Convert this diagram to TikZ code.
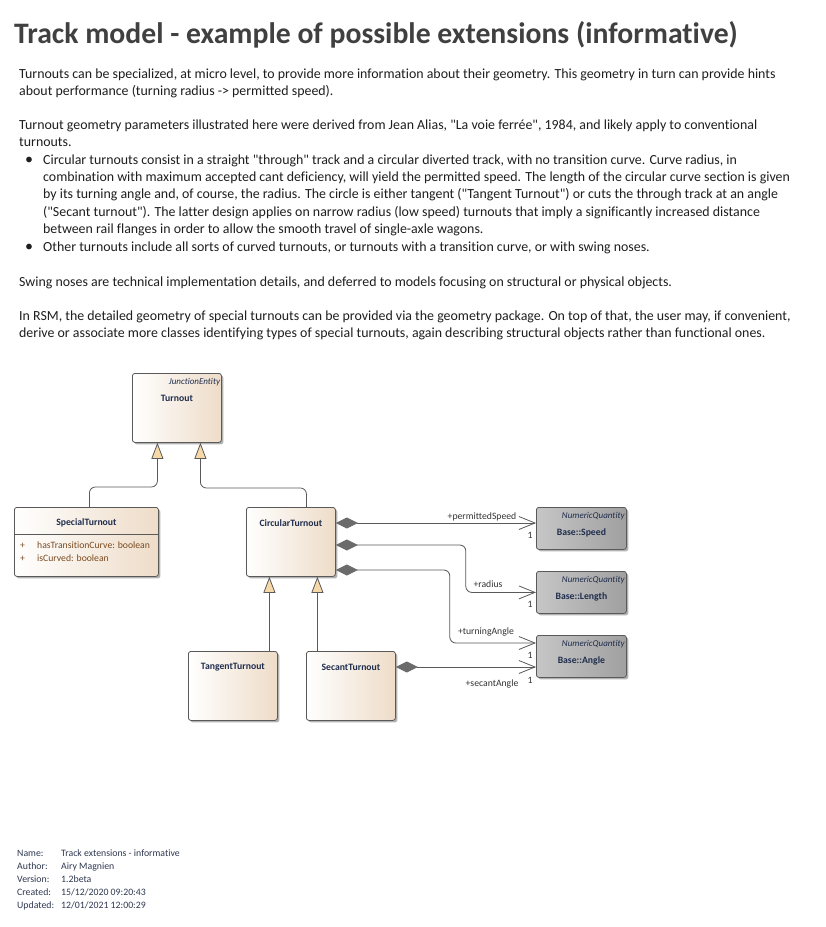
\documentclass[tikz,border=0pt]{standalone}
\usepackage{fontspec}
\setmainfont{Carlito}[Ligatures={TeXOff,CommonOff}]
\usetikzlibrary{arrows.meta,shadows,calc}
\definecolor{titletxt}{HTML}{404040}
\definecolor{bodytxt}{HTML}{1E1E1E}
\definecolor{boxline}{HTML}{5A5A5A}
\definecolor{beige}{HTML}{EEDCC8}
\definecolor{grayL}{HTML}{C6C6C6}
\definecolor{grayR}{HTML}{A0A0A0}
\definecolor{trifill}{HTML}{F7D9A9}
\definecolor{diafill}{HTML}{6B6B6B}
\definecolor{navy}{HTML}{1F2D4D}
\definecolor{attr}{HTML}{7A4A20}
\definecolor{lbl}{HTML}{333333}
\definecolor{foot}{HTML}{2E3850}
\tikzset{
  bodyline/.style={anchor=base west, inner sep=0pt, text=bodytxt, font=\fontsize{13.9}{16}\selectfont},
  cls/.style={draw=boxline, line width=0.8pt, rounded corners=2.5pt, anchor=north west, inner sep=0pt,
     left color=white, right color=beige,
     drop shadow={shadow xshift=2pt, shadow yshift=-2pt, opacity=0.3, fill=black}},
  numq/.style={cls, left color=grayL, right color=grayR},
  ctitle/.style={inner sep=0pt, text=navy, font=\fontsize{9.7}{11}\selectfont\bfseries},
  stereo/.style={inner sep=0pt, anchor=north east, text=navy, font=\fontsize{9}{11}\selectfont\itshape},
  attrtxt/.style={anchor=base west, inner sep=0pt, text=attr, font=\fontsize{9.7}{11}\selectfont},
  gen/.style={draw=boxline, line width=0.8pt, rounded corners=6pt,
     -{Triangle[length=16pt, width=12pt, fill=trifill, line width=0.8pt]}},
  assoc/.style={draw=boxline, line width=0.8pt, rounded corners=6pt,
     {Diamond[length=22pt, width=11pt, fill=diafill, color=diafill]}-{Straight Barb[length=16pt, width=13pt, line width=0.8pt]}},
  albl/.style={inner sep=0pt, text=lbl, font=\fontsize{9.7}{11}\selectfont},
  mult/.style={inner sep=0pt, text=lbl, font=\fontsize{9.7}{11}\selectfont},
  footl/.style={anchor=base west, inner sep=0pt, text=foot, font=\fontsize{9.8}{11}\selectfont},
}
\begin{document}
\begin{tikzpicture}[x=1pt, y=-1pt]
\fill[white] (0,0) rectangle (826,927);
\useasboundingbox (0,0) rectangle (826,927);

% title
\node[anchor=base west, inner sep=0pt, text=titletxt, font=\fontsize{29.7}{32}\selectfont\bfseries] (title) at (14,43) {Track model - example of possible extensions (informative)};

% body text
\node[bodyline] (l1) at (19,78.5) {Turnouts can be specialized, at micro level, to provide more information about their geometry. This geometry in turn can provide hints};
\node[bodyline] (l2) at (19,95.5) {about performance (turning radius -> permitted speed).};
\node[bodyline] (l3) at (19,129) {Turnout geometry parameters illustrated here were derived from Jean Alias, "La voie ferrée", 1984, and likely apply to conventional};
\node[bodyline] (l4) at (19,146) {turnouts.};
\node[bodyline, font=\fontsize{16}{16}\selectfont] (b1) at (25,164) {•};
\node[bodyline] (l5) at (43,164) {Circular turnouts consist in a straight "through" track and a circular diverted track, with no transition curve. Curve radius, in};
\node[bodyline] (l6) at (43,181.5) {combination with maximum accepted cant deficiency, will yield the permitted speed. The length of the circular curve section is given};
\node[bodyline] (l7) at (43,198.8) {by its turning angle and, of course, the radius. The circle is either tangent ("Tangent Turnout") or cuts the through track at an angle};
\node[bodyline] (l8) at (43,216.1) {("Secant turnout"). The latter design applies on narrow radius (low speed) turnouts that imply a significantly increased distance};
\node[bodyline] (l9) at (43,233) {between rail flanges in order to allow the smooth travel of single-axle wagons.};
\node[bodyline, font=\fontsize{16}{16}\selectfont] (b2) at (25,251.5) {•};
\node[bodyline] (l10) at (43,251.5) {Other turnouts include all sorts of curved turnouts, or turnouts with a transition curve, or with swing noses.};
\node[bodyline] (l11) at (19,286) {Swing noses are technical implementation details, and deferred to models focusing on structural or physical objects.};
\node[bodyline] (l12) at (19,320.5) {In RSM, the detailed geometry of special turnouts can be provided via the geometry package. On top of that, the user may, if convenient,};
\node[bodyline] (l13) at (19,337.5) {derive or associate more classes identifying types of special turnouts, again describing structural objects rather than functional ones.};

% classes
\node[cls, minimum width=89pt, minimum height=69pt] (turnout) at (132,373) {};
\node[stereo] (turnoutst) at ([xshift=-1.5pt, yshift=-5pt]turnout.north east) {JunctionEntity};
\node[ctitle] (turnoutt) at ([yshift=-25pt]turnout.north) {Turnout};

\node[cls, minimum width=144pt, minimum height=69pt] (special) at (14,507) {};
\node[ctitle] (specialt) at ([yshift=-16pt]special.north) {SpecialTurnout};
\draw[boxline, line width=0.8pt] ([yshift=-27pt]special.north west) -- ([yshift=-27pt]special.north east);
\node[attrtxt] (sa1) at (20,548.5) {+};
\node[attrtxt] (sa1n) at (37,548.5) {hasTransitionCurve: boolean};
\node[attrtxt] (sa2) at (20,561.5) {+};
\node[attrtxt] (sa2n) at (37,561.5) {isCurved: boolean};

\node[cls, minimum width=89pt, minimum height=69pt] (circ) at (246,507) {};
\node[ctitle] (circt) at ([yshift=-16pt]circ.north) {CircularTurnout};

\node[cls, minimum width=89pt, minimum height=69pt] (tangent) at (188,651) {};
\node[ctitle] (tangentt) at ([yshift=-16pt]tangent.north) {TangentTurnout};

\node[cls, minimum width=89pt, minimum height=69pt] (secant) at (306,651) {};
\node[ctitle] (secantt) at ([yshift=-16pt]secant.north) {SecantTurnout};

\node[numq, minimum width=90pt, minimum height=42pt] (speed) at (536,507) {};
\node[stereo] (speedst) at ([xshift=-2pt, yshift=-5pt]speed.north east) {NumericQuantity};
\node[ctitle] (speedt) at ([yshift=-26pt]speed.north) {Base::Speed};

\node[numq, minimum width=90pt, minimum height=42pt] (length) at (536,571) {};
\node[stereo] (lengthst) at ([xshift=-2pt, yshift=-5pt]length.north east) {NumericQuantity};
\node[ctitle] (lengtht) at ([yshift=-26pt]length.north) {Base::Length};

\node[numq, minimum width=90pt, minimum height=42pt] (angle) at (536,635) {};
\node[stereo] (anglest) at ([xshift=-2pt, yshift=-5pt]angle.north east) {NumericQuantity};
\node[ctitle] (anglet) at ([yshift=-26pt]angle.north) {Base::Angle};

% generalizations
\draw[gen] ([xshift=3pt]special.north) -- ++(0,-20) -| ([xshift=-19.5pt]turnout.south);
\draw[gen] ([xshift=15.5pt]circ.north) -- ++(0,-19) -| ([xshift=23.5pt]turnout.south);
\draw[gen] ([xshift=36.5pt]tangent.north) -- ([xshift=36.5pt]tangent.north |- circ.south);
\draw[gen] ([xshift=-33.5pt]secant.north) -- ([xshift=-33.5pt]secant.north |- circ.south);

% associations
\coordinate (a1s) at ([yshift=-16pt]circ.north east);
\coordinate (a2s) at ([yshift=-38pt]circ.north east);
\coordinate (a3s) at ([yshift=-63pt]circ.north east);
\coordinate (a4s) at ([yshift=-16pt]secant.north east);
\coordinate (a3e) at ([yshift=-8pt]angle.north west);
\draw[assoc] (a1s) -- (a1s -| speed.west);
\draw[assoc] (a2s) -- ++(130,0) |- (length.west);
\draw[assoc] (a3s) -- ++(114,0) |- (a3e);
\draw[assoc] (a4s) -- (a4s -| angle.west);

\node[albl] (l_ps) at (482,517) {+permittedSpeed};
\node[mult] (m_ps) at (530,535) {1};
\node[albl] (l_r) at (488,584) {+radius};
\node[mult] (m_r) at (530,604) {1};
\node[albl] (l_ta) at (486,632) {+turningAngle};
\node[mult] (m_ta) at (530,655) {1};
\node[albl] (l_sa) at (492,684) {+secantAngle};
\node[mult] (m_sa) at (530,680) {1};

% footer
\node[footl] (f1) at (17,856.5) {Name:};
\node[footl] (f1v) at (61,856.5) {Track extensions - informative};
\node[footl] (f2) at (17,869.5) {Author:};
\node[footl] (f2v) at (61,869.5) {Airy Magnien};
\node[footl] (f3) at (17,882.5) {Version:};
\node[footl] (f3v) at (61,882.5) {1.2beta};
\node[footl] (f4) at (17,895.5) {Created:};
\node[footl] (f4v) at (61,895.5) {15/12/2020 09:20:43};
\node[footl] (f5) at (17,908.5) {Updated:};
\node[footl] (f5v) at (61,908.5) {12/01/2021 12:00:29};
\end{tikzpicture}
\end{document}
